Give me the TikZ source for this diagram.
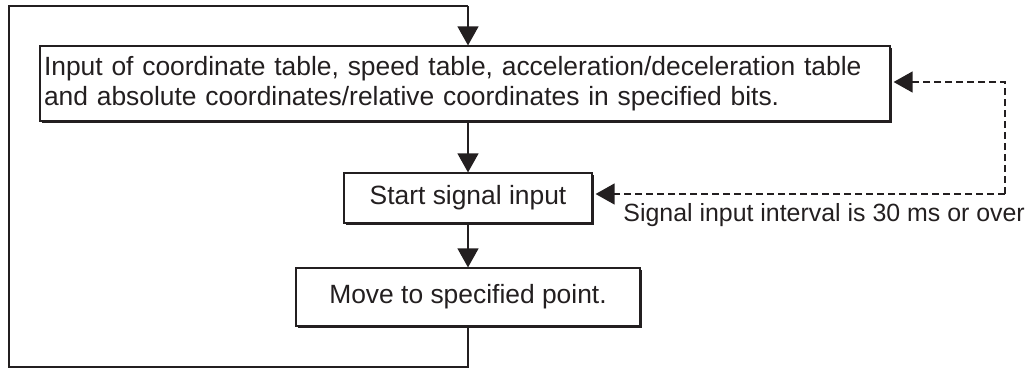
\documentclass[tikz,border=0pt]{standalone}
\usepackage{fontspec}
\setmainfont{Liberation Sans}
\usetikzlibrary{arrows.meta,shadows}
\definecolor{ink}{RGB}{35,31,32}
\begin{document}
\begin{tikzpicture}[x=1pt,y=-1pt,
  flowbox/.style={draw=ink, line width=1.2pt, fill=white, rectangle, text=ink,
    drop shadow={shadow xshift=2pt, shadow yshift=-2pt, fill=ink, opacity=1},
    font=\fontsize{26.4}{30}\selectfont, inner sep=0pt},
  flow/.style={draw=ink, line width=1.2pt, -{Triangle[length=19pt,width=21pt]}},
  dashflow/.style={draw=ink, line width=1.3pt, dash pattern=on 7pt off 4pt, -{Triangle[length=19pt,width=21pt]}},
  loopline/.style={draw=ink, line width=1.2pt}
]
\useasboundingbox (0,0) rectangle (1028,370);
\node[flowbox, minimum width=850pt, minimum height=75pt, text width=842pt, align=left] (b1) at (465,83.5)
  {Input of coordinate table, speed table, acceleration/deceleration table\\and absolute coordinates/relative coordinates in specified bits.};
\node[flowbox, minimum width=248pt, minimum height=50pt] (b2) at (468,198) {Start signal input};
\node[flowbox, minimum width=344pt, minimum height=58pt] (b3) at (468,297) {Move to specified point.};
\coordinate (bl) at (9,367);
\coordinate (tl) at (9,6);
\coordinate (br) at (468,367);
\coordinate (tr) at (468,6);
\coordinate (c1) at (1005,82);
\coordinate (c2) at (1005,194);
\draw[loopline] (b3.south) -- (br) -- (bl) -- (tl) -- (tr);
\draw[flow] (tr) -- (tr |- b1.north);
\draw[flow] (b2.north |- b1.south) -- (b2.north);
\draw[flow] (b2.south) -- (b3.north);
\draw[dashflow] (c2) -- (c1) -- ([xshift=3pt]b1.east |- c1);
\draw[dashflow] (c2) -- ([xshift=3pt]b2.east |- c2);
\node[anchor=base east, text=ink, font=\fontsize{24.9}{28}\selectfont, inner sep=0pt] (lbl) at (1025,221) {Signal input interval is 30 ms or over};
\end{tikzpicture}
\end{document}
